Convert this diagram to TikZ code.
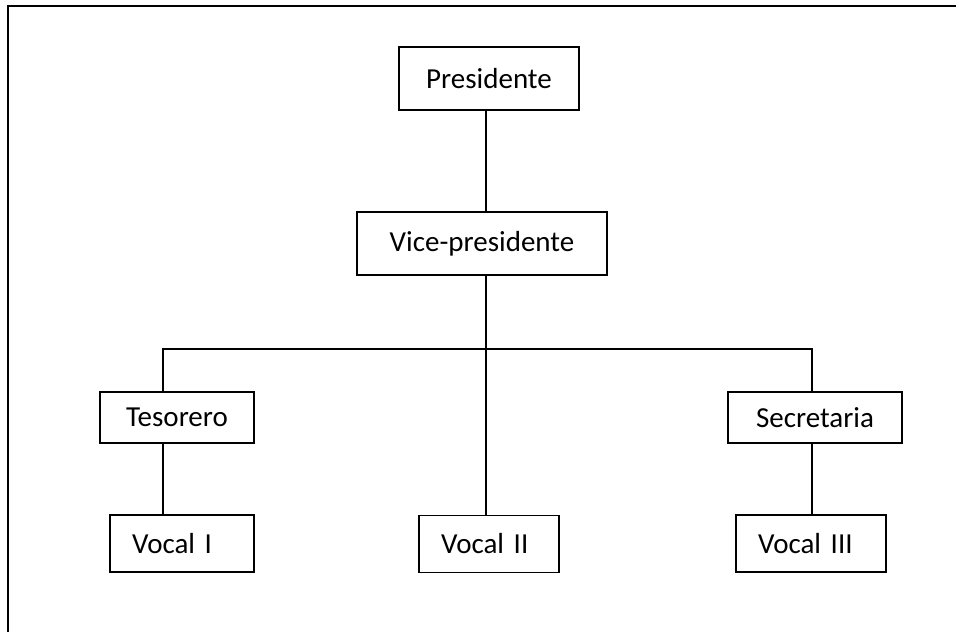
\documentclass[tikz,border=0pt]{standalone}
\usepackage{fontspec}
\setmainfont{Carlito}
\tikzset{
    org-box/.style = {draw=black, fill=white, line width=1.8pt, rectangle, inner sep=0pt, font=\fontsize{29}{34}\selectfont},
    vocal-box/.style = {org-box, align=left, inner xsep=22pt, minimum height=57pt, text width=#1},
    tie-line/.style = {draw=black, line width=1.8pt},
}

\begin{document}
\begin{tikzpicture}[x=1pt, y=-1pt]
\useasboundingbox (0,0) rectangle (956,632);
\draw[line width=2.2pt] (8,632) -- (8,6) -- (956,6);

\node [org-box, minimum width=180pt, minimum height=63pt] (pres) at (489,78.5) {Presidente};
\node [org-box, minimum width=250pt, minimum height=63pt] (vice) at (482,243.5) {Vice-presidente};
\node [org-box, minimum width=154pt, minimum height=51pt] (teso) at (177,417.5) {Tesorero};
\node [org-box, minimum width=174pt, minimum height=51pt] (secr) at (815,417.5) {Secretaria};
\node [vocal-box=100pt] (vocal1) at (182,543.5) {Vocal I};
\node [vocal-box=96pt] (vocal2) at (489,544) {Vocal II};
\node [vocal-box=106pt] (vocal3) at (811,543.5) {Vocal III};

% branch points
\coordinate (trunk) at (486,349);
\coordinate (left-fork) at (163,349);
\coordinate (right-fork) at (812,349);

\draw[tie-line] (trunk |- pres.south) -- (trunk |- vice.north);
\draw[tie-line] (trunk |- vice.south) -- (trunk |- vocal2.north);
\draw[tie-line] (left-fork |- teso.north) -- (left-fork) -- (right-fork) -- (right-fork |- secr.north);
\draw[tie-line] (left-fork |- teso.south) -- (left-fork |- vocal1.north);
\draw[tie-line] (right-fork |- secr.south) -- (right-fork |- vocal3.north);
\end{tikzpicture}
\end{document}
